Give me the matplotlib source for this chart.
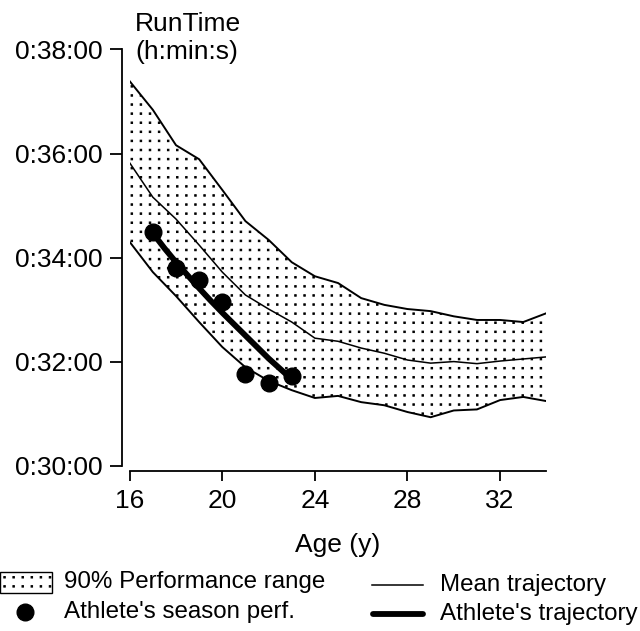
import matplotlib
matplotlib.use('Agg')
import numpy as np
import matplotlib.pyplot as plt
import matplotlib.hatch as mhatch
from matplotlib.path import Path
from matplotlib.ticker import FuncFormatter, FixedLocator
from matplotlib.patches import Rectangle

plt.rcParams['font.family'] = ['Liberation Sans', 'DejaVu Sans']
plt.rcParams['hatch.linewidth'] = 0.7


# regular (non staggered) dot grid used for the "." hatch
class GridDots(mhatch.HatchPatternBase):
    per_tile = 11
    half = 0.0075

    def __init__(self, hatch, density):
        self.n = self.per_tile if hatch.count('.') else 0
        sq = Path.unit_rectangle()
        self.shape_vertices = (sq.vertices - 0.5) * 2 * self.half
        self.shape_codes = sq.codes
        self.num_vertices = self.n * self.n * len(self.shape_vertices)

    def set_vertices_and_codes(self, vertices, codes):
        n = self.n
        vparts, cparts = [], []
        for i in range(n):
            for j in range(n):
                vparts.append(self.shape_vertices + [(i + 0.5) / n, (j + 0.5) / n])
                cparts.append(self.shape_codes)
        np.concatenate(vparts, out=vertices)
        np.concatenate(cparts, out=codes)


mhatch._hatch_types[:] = [GridDots if t is mhatch.SmallFilledCircles else t
                          for t in mhatch._hatch_types]

# ---- data (run time in minutes) ----
ages = list(range(16, 35))
upper = [37.39, 36.84, 36.16, 35.89, 35.30, 34.70, 34.34, 33.91, 33.64, 33.51,
         33.22, 33.09, 33.01, 32.97, 32.87, 32.80, 32.80, 32.76, 32.93]
mean = [35.82, 35.16, 34.74, 34.24, 33.72, 33.28, 33.01, 32.76, 32.45, 32.39,
        32.26, 32.16, 32.03, 31.97, 32.00, 31.96, 32.01, 32.05, 32.09]
lower = [34.30, 33.72, 33.26, 32.76, 32.28, 31.89, 31.63, 31.45, 31.30, 31.34,
         31.22, 31.16, 31.03, 30.93, 31.06, 31.08, 31.26, 31.32, 31.24]
season_ages = [17, 18, 19, 20, 21, 22, 23]
season_times = [34.50, 33.79, 33.57, 33.15, 31.77, 31.59, 31.73]
traj_ages = [17, 17.5, 18, 18.5, 19, 19.5, 20, 20.5, 21, 21.5, 22, 22.5, 23]
traj_times = [34.47, 34.18, 33.91, 33.66, 33.41, 33.17, 32.94, 32.72, 32.50,
              32.28, 32.06, 31.86, 31.66]

x_ticks = [16, 20, 24, 28, 32]
y_ticks = [30, 32, 34, 36, 38]
legend_labels = ["90% Performance range", "Athlete's season perf.",
                 "Mean trajectory", "Athlete's trajectory"]


def fmt_time(m, pos=None):
    total = int(round(m * 60))
    h = total // 3600
    mm = (total % 3600) // 60
    ss = total % 60
    return f"{h}:{mm:02d}:{ss:02d}"


W, H = 640, 631
fig = plt.figure(figsize=(W / 100, H / 100), dpi=100)
ax = fig.add_axes([129.7 / W, 1 - 465.6 / H, (546.4 - 129.7) / W, (465.6 - 49.5) / H])

ax.fill_between(ages, lower, upper, facecolor='white', edgecolor='black',
                hatch='.', linewidth=0, zorder=1)
ax.plot(ages, upper, color='black', lw=1.4, zorder=2)
ax.plot(ages, lower, color='black', lw=1.4, zorder=2)
ax.plot(ages, mean, color='black', lw=1.1, zorder=2)
ax.plot(traj_ages, traj_times, color='black', lw=4.2, solid_capstyle='round',
        solid_joinstyle='round', zorder=3)
ax.plot(season_ages, season_times, 'o', color='black', markersize=12, zorder=4)

ax.set_xlim(16, 34)
ax.set_ylim(30, 38)
ax.xaxis.set_major_locator(FixedLocator(x_ticks))
ax.yaxis.set_major_locator(FixedLocator(y_ticks))
ax.yaxis.set_major_formatter(FuncFormatter(fmt_time))

for s in ['top', 'right']:
    ax.spines[s].set_visible(False)
ax.spines['left'].set_position(('outward', 5.8))
ax.spines['bottom'].set_position(('outward', 4.1))
for s in ['left', 'bottom']:
    ax.spines[s].set_linewidth(1.3)
ax.tick_params(axis='y', direction='out', length=8.6, width=1.3, labelsize=19, pad=5)
ax.tick_params(axis='x', direction='out', length=6.9, width=1.3, labelsize=19, pad=6)

ax.set_xlabel('Age (y)', fontsize=19)
ax.xaxis.set_label_coords(0.5, -0.163)
ax.xaxis.label.set_va('top')

fig.text(135 / W, 1 - 12 / H, 'RunTime\n(h:min:s)', ha='left', va='top',
         fontsize=19, linespacing=1.22)

# ---- legend drawn below the plot ----
lg = fig.add_axes([0, 0, 1, 1])
lg.set_xlim(0, W)
lg.set_ylim(H, 0)
lg.axis('off')
lg.add_patch(Rectangle((0, 572), 52, 21, facecolor='white', edgecolor='black',
                       hatch='.', lw=1.0))
lg.plot([25], [612], 'o', color='black', markersize=12)
lg.plot([372, 423], [585, 585], color='black', lw=1.1)
lg.plot([373, 423], [614, 614], color='black', lw=4.2, solid_capstyle='round')
fs = 17.4
lg.text(64, 582, legend_labels[0], fontsize=fs, va='center', ha='left')
lg.text(64, 612, legend_labels[1], fontsize=fs, va='center', ha='left')
lg.text(440, 585, legend_labels[2], fontsize=fs, va='center', ha='left')
lg.text(440, 614, legend_labels[3], fontsize=fs, va='center', ha='left')

fig.savefig('out.png', dpi=100)
